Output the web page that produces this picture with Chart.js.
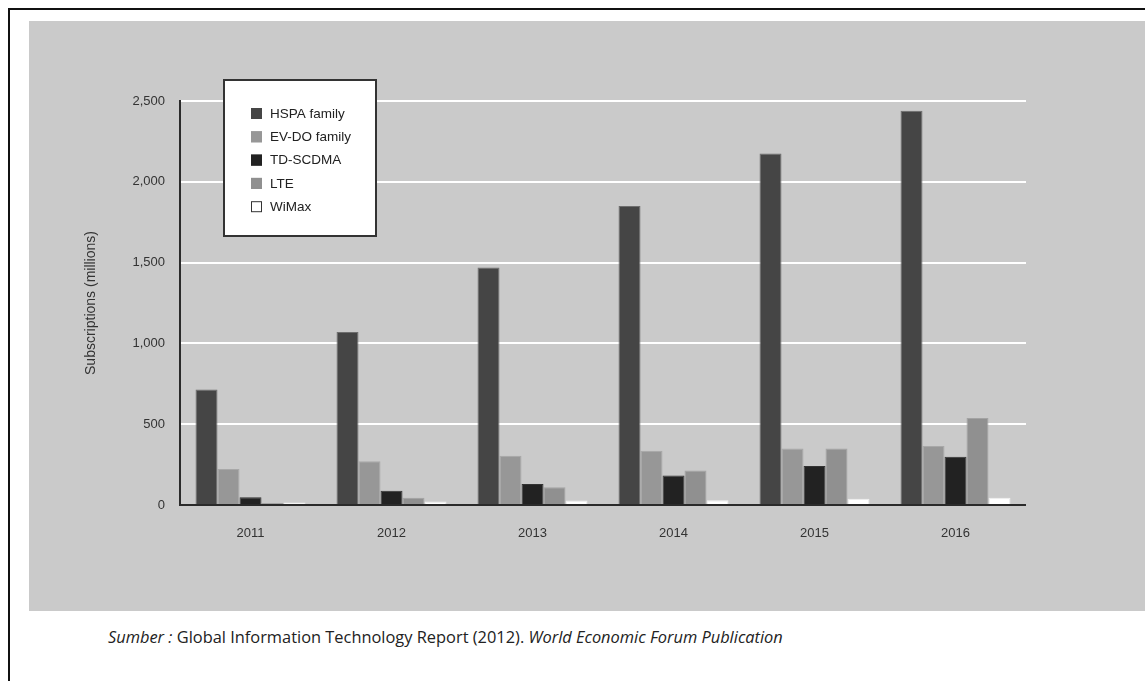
<!DOCTYPE html>
<html lang="id">
<head>
<meta charset="UTF-8">
<title>Mobile broadband subscriptions</title>
<script src="https://cdn.jsdelivr.net/npm/chart.js"></script>
<style>
  html, body { margin: 0; padding: 0; background: #fff; overflow: hidden; }
  body { width: 1145px; height: 681px; position: relative; }
  /* frame around the whole figure */
  .frame {
    position: absolute; left: 8px; top: 8px;
    width: 1160px; height: 700px;
    border: 2px solid #111; box-sizing: border-box;
  }
  .panel {
    position: absolute; left: 29px; top: 21px;
    width: 1116px; height: 590px;
    background: #cacaca;
  }
  .source {
    position: absolute; left: 108px; top: 625px;
    font-family: "Open Sans", Lato, sans-serif; font-size: 16.4px; color: #222;
  }
</style>
</head>
<body>
<div class="frame"></div>
<div class="panel"><canvas id="chart" width="1116" height="590"></canvas></div>
<div class="source"><i>Sumber :</i> Global Information Technology Report (2012). <i>World Economic Forum Publication</i></div>

<script>
  // subscriptions in millions
  const years = ['2011', '2012', '2013', '2014', '2015', '2016'];
  const hspa  = [715, 1070, 1470, 1850, 2175, 2440];
  const evdo  = [222, 270, 305, 335, 350, 365];
  const tdscdma = [48, 88, 130, 183, 241, 299];
  const lte   = [12, 45, 110, 214, 349, 538];
  const wimax = [15, 22, 28, 30, 38, 45];
  const yTicks = [0, 500, 1000, 1500, 2000, 2500];

  const labelFont = '"Liberation Sans", Arial, sans-serif';

  // boxed legend in the upper left of the plot
  const boxLegend = {
    id: 'boxLegend',
    afterDraw(chart) {
      const ctx = chart.ctx;
      const x = 195, y = 59, w = 152, h = 156;
      ctx.save();
      ctx.fillStyle = '#fff';
      ctx.fillRect(x, y, w, h);
      ctx.strokeStyle = '#333';
      ctx.lineWidth = 2;
      ctx.strokeRect(x, y, w, h);
      ctx.font = '13.5px ' + labelFont;
      ctx.textBaseline = 'middle';
      chart.data.datasets.forEach((ds, i) => {
        const cy = y + 33 + i * 23.3;
        ctx.fillStyle = ds.backgroundColor;
        ctx.fillRect(x + 27, cy - 5, 11, 11);
        ctx.strokeStyle = ds.legendStroke;
        ctx.lineWidth = 1;
        ctx.strokeRect(x + 27.5, cy - 4.5, 10, 10);
        ctx.fillStyle = '#222';
        ctx.fillText(ds.label, x + 46, cy + 1);
      });
      ctx.restore();
    }
  };

  const ctx = document.getElementById('chart').getContext('2d');
  new Chart(ctx, {
    type: 'bar',
    data: {
      labels: years,
      datasets: [
        { label: 'HSPA family', data: hspa, backgroundColor: '#454545', borderColor: '#6e6e6e', legendStroke: '#454545' },
        { label: 'EV-DO family', data: evdo, backgroundColor: '#979797', borderColor: '#a8a8a8', legendStroke: '#979797' },
        { label: 'TD-SCDMA', data: tdscdma, backgroundColor: '#222222', borderColor: '#333333', legendStroke: '#222222' },
        { label: 'LTE', data: lte, backgroundColor: '#909090', borderColor: '#a3a3a3', legendStroke: '#909090' },
        { label: 'WiMax', data: wimax, backgroundColor: '#ffffff', borderColor: '#f2f2f2', legendStroke: '#333333' }
      ]
    },
    options: {
      responsive: false,
      animation: false,
      datasets: {
        bar: { borderWidth: 1, categoryPercentage: 0.78, barPercentage: 1.0 }
      },
      layout: { padding: { left: 50, right: 119, top: 80, bottom: 66 } },
      scales: {
        x: {
          grid: { display: false, drawTicks: false },
          border: { display: false },
          ticks: { color: '#333', font: { family: labelFont, size: 13 }, padding: 21 },
          afterFit(scale) { scale.height = 40; }
        },
        y: {
          min: 0, max: 2500,
          afterBuildTicks(scale) { scale.ticks = yTicks.map(v => ({ value: v })); },
          afterFit(scale) { scale.width = 101; },
          grid: {
            drawTicks: false,
            lineWidth: 2,
            color: c => (c.tick && c.tick.value === 0) ? '#2a2a2a' : '#ffffff'
          },
          border: { display: true, color: '#2a2a2a', width: 2 },
          ticks: {
            color: '#333', padding: 15,
            font: { family: labelFont, size: 13 },
            callback: v => v.toLocaleString('en-US')
          },
          title: {
            display: true, text: 'Subscriptions (millions)', color: '#333',
            font: { family: labelFont, size: 14 }
          }
        }
      },
      plugins: { legend: { display: false }, tooltip: { enabled: false } }
    },
    plugins: [boxLegend]
  });
</script>
</body>
</html>
